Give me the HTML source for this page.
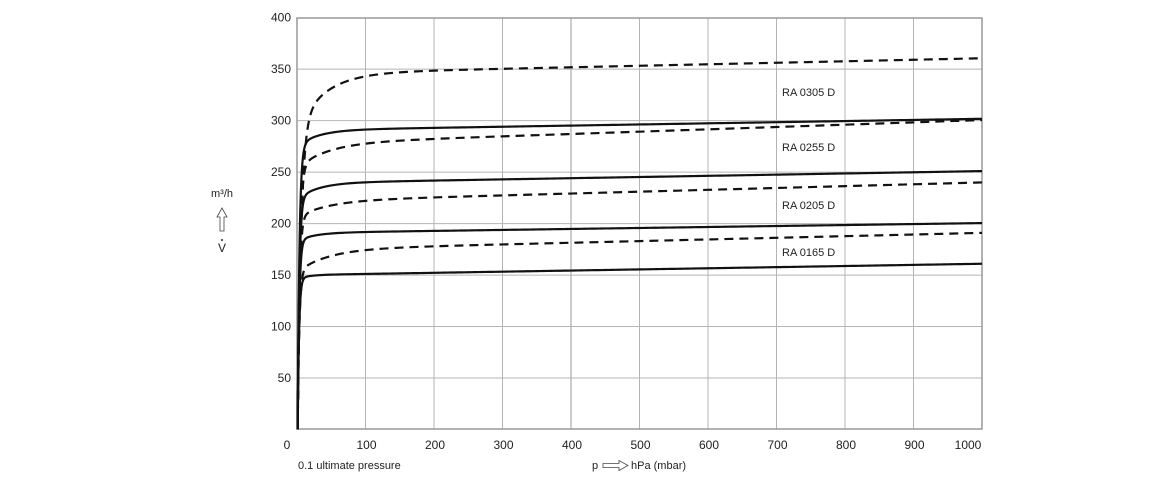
<!DOCTYPE html>
<html><head><meta charset="utf-8"><style>
html,body{margin:0;padding:0;background:#fff;}
svg{display:block;font-family:"Liberation Sans",sans-serif;}
</style></head><body>
<svg id="s" width="1160" height="480" viewBox="0 0 1160 480" xmlns="http://www.w3.org/2000/svg">
<g id="grid" stroke="#b4b4b4" stroke-width="1"></g>
<rect x="297" y="18" width="685" height="411" fill="none" stroke="#999" stroke-width="1.5"/>
<g id="curves" fill="none" stroke="#111" stroke-width="2.2"></g>
<g font-size="12" fill="#222" text-anchor="end" id="ylab"></g>
<g font-size="12" fill="#222" text-anchor="middle" id="xlab"></g>
<text x="298" y="469" font-size="11" fill="#222">0.1 ultimate pressure</text>
<text x="592" y="469" font-size="11" fill="#222">p</text>
<path d="M603,463.5 h16 v-3 l9,5 l-9,5 v-3 h-16 z" fill="#fff" stroke="#444" stroke-width="0.8"/>
<text x="631" y="469" font-size="11" fill="#222">hPa (mbar)</text>
<text x="222" y="197" font-size="11" fill="#222" text-anchor="middle">m³/h</text>
<path d="M220,231 v-14 h-3 l5,-9 l5,9 h-3 v14 z" fill="#fff" stroke="#444" stroke-width="0.8"/>
<text x="222" y="252" font-size="12" fill="#222" text-anchor="middle">V</text>
<circle cx="222" cy="240" r="1" fill="#222"/>
<g font-size="11" fill="#222">
<text x="782" y="96">RA 0305 D</text>
<text x="782" y="151">RA 0255 D</text>
<text x="782" y="209">RA 0205 D</text>
<text x="782" y="256">RA 0165 D</text>
</g>
</svg>
<script>
var NS="http://www.w3.org/2000/svg";
function X(p){return 297+p*0.685;}
function Y(v){return 429.5-v*1.0295;}
var g=document.getElementById('grid');
function ln(x1,y1,x2,y2,par,c){var l=document.createElementNS(NS,'line');l.setAttribute('x1',x1);l.setAttribute('y1',y1);l.setAttribute('x2',x2);l.setAttribute('y2',y2);if(c)l.setAttribute('stroke',c);par.appendChild(l);}
for(var i=1;i<10;i++){ln(X(i*100),18,X(i*100),429,g,i==4?'#999':null);}
for(var j=1;j<8;j++){ln(297,Y(j*50),982,Y(j*50),g);}
var yl=document.getElementById('ylab');
for(var j=1;j<=8;j++){var t=document.createElementNS(NS,'text');t.setAttribute('x',291);t.setAttribute('y',Y(j*50)+4);t.textContent=j*50;yl.appendChild(t);}
var xl=document.getElementById('xlab');
for(var i=0;i<=10;i++){var t=document.createElementNS(NS,'text');t.setAttribute('x',i==0?287:(i==10?968:X(i*100)+1));t.setAttribute('y',449);t.textContent=i*100;xl.appendChild(t);}
var cs=document.getElementById('curves');
var defs=[
[150,0.011,4,15,2.0,false],
[191,0.0095,8,25,2.2,false],
[239.5,0.0115,16,30,2.4,false],
[290.8,0.011,16,30,2.6,false],
[346,0.0146,54,40,5,true],
[278,0.0226,24,45,3,true],
[222,0.018,16,45,2.6,true],
[175,0.016,22,45,2.4,true]];
defs.forEach(function(d){
 var pts=[];
 for(var p=1;p<=1000;p+=(p<40?0.25:5)){
  var L=d[0]+d[1]*p-d[2]*Math.exp(-p/d[3]);
  var v=L*(1-Math.exp(-(p-1)/d[4]));
  pts.push(X(p).toFixed(2)+','+Y(v).toFixed(2));
 }
 var pa=document.createElementNS(NS,'path');
 pa.setAttribute('d','M'+pts.join(' L'));
 if(d[5]){pa.setAttribute('stroke-dasharray','9 6');}
 cs.appendChild(pa);
});
</script>
</body></html>
